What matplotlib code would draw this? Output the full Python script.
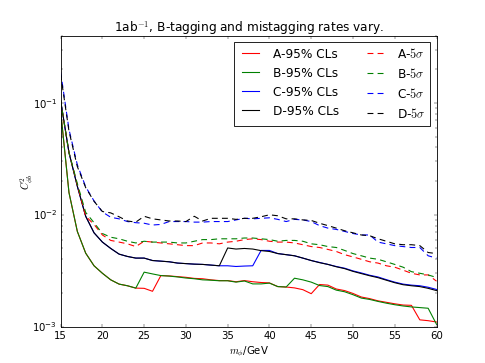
import matplotlib
matplotlib.use("Agg")
import matplotlib.pyplot as plt
import numpy as np

masses = list(range(15, 61))

A_cl = [0.085, 0.0158, 0.0071, 0.00454, 0.00350, 0.00300, 0.00262, 0.00240, 0.00232, 0.00221,
        0.00220, 0.00207, 0.00286, 0.00284, 0.00280, 0.00276, 0.00270, 0.00268, 0.00262, 0.00258,
        0.00258, 0.00252, 0.00258, 0.00252, 0.00248, 0.00246, 0.00228, 0.00226, 0.00222, 0.00214,
        0.00197, 0.00238, 0.00235, 0.00217, 0.00210, 0.00198, 0.00184, 0.00178, 0.00170, 0.00165,
        0.00160, 0.00156, 0.00155, 0.00115, 0.00113, 0.00110]
B_cl = [0.085, 0.0158, 0.0071, 0.00454, 0.00350, 0.00300, 0.00262, 0.00240, 0.00232, 0.00221,
        0.00307, 0.00296, 0.00286, 0.00283, 0.00278, 0.00272, 0.00268, 0.00262, 0.00260, 0.00257,
        0.00257, 0.00250, 0.00256, 0.00241, 0.00241, 0.00245, 0.00228, 0.00226, 0.00271, 0.00262,
        0.00250, 0.00233, 0.00228, 0.00212, 0.00205, 0.00193, 0.00180, 0.00175, 0.00168, 0.00162,
        0.00157, 0.00153, 0.00150, 0.00148, 0.00146, 0.00105]
C_cl = [0.105, 0.036, 0.018, 0.0097, 0.0069, 0.0057, 0.0050, 0.00445, 0.00424, 0.0041,
        0.0041, 0.0039, 0.00385, 0.0038, 0.0037, 0.00366, 0.00362, 0.0036, 0.00355, 0.0035,
        0.0035, 0.00345, 0.00348, 0.0035, 0.0048, 0.0048, 0.0045, 0.0044, 0.0043, 0.0041,
        0.0039, 0.00375, 0.0036, 0.00345, 0.00333, 0.00315, 0.00302, 0.00288, 0.00278, 0.00263,
        0.00250, 0.0024, 0.00235, 0.00232, 0.00225, 0.00215]
D_cl = [0.105, 0.036, 0.018, 0.0097, 0.0069, 0.0057, 0.0050, 0.00445, 0.00424, 0.0041,
        0.0041, 0.0039, 0.00385, 0.0038, 0.0037, 0.00366, 0.00362, 0.0036, 0.00355, 0.0035,
        0.00505, 0.00494, 0.0050, 0.00494, 0.00478, 0.0047, 0.0045, 0.0044, 0.0043, 0.0041,
        0.0039, 0.00373, 0.0036, 0.00343, 0.0033, 0.00312, 0.00298, 0.00285, 0.00274, 0.0026,
        0.00247, 0.00237, 0.00232, 0.00228, 0.0022, 0.0021]

A_5s = [0.105, 0.036, 0.0185, 0.0097, 0.0082, 0.0066, 0.0059, 0.0057, 0.0055, 0.0052,
        0.0058, 0.0057, 0.0056, 0.0055, 0.0054, 0.0053, 0.0053, 0.0056, 0.0056, 0.0055,
        0.0057, 0.0058, 0.0060, 0.0061, 0.0060, 0.0058, 0.0057, 0.0057, 0.0056, 0.0054,
        0.0052, 0.0051, 0.0049, 0.0047, 0.0044, 0.0042, 0.0040, 0.0038, 0.0037, 0.0035,
        0.0034, 0.0032, 0.0030, 0.0029, 0.0029, 0.00255]
B_5s = [0.105, 0.036, 0.019, 0.0105, 0.0085, 0.0068, 0.0063, 0.0061, 0.0058, 0.0056,
        0.0058, 0.0057, 0.0057, 0.0057, 0.0056, 0.0056, 0.0058, 0.0060, 0.0060, 0.0061,
        0.0061, 0.0061, 0.0062, 0.0062, 0.0061, 0.0060, 0.0058, 0.0059, 0.0059, 0.0058,
        0.0055, 0.0054, 0.0052, 0.0051, 0.0048, 0.0045, 0.0043, 0.0041, 0.0040, 0.0038,
        0.0036, 0.0034, 0.0031, 0.0030, 0.0029, 0.00275]
C_5s = [0.19, 0.058, 0.028, 0.0178, 0.0133, 0.0106, 0.0095, 0.0092, 0.0087, 0.0085,
        0.0084, 0.0081, 0.0082, 0.0087, 0.0087, 0.0087, 0.0086, 0.0086, 0.0087, 0.0087,
        0.0087, 0.0090, 0.0093, 0.0092, 0.0093, 0.0094, 0.0091, 0.0087, 0.0091, 0.0090,
        0.0087, 0.0080, 0.0076, 0.0074, 0.0071, 0.0068, 0.0066, 0.0066, 0.0057, 0.0055,
        0.0053, 0.0052, 0.0051, 0.0051, 0.0043, 0.0041]
D_5s = [0.18, 0.056, 0.027, 0.0175, 0.0132, 0.0107, 0.0104, 0.0096, 0.0088, 0.0086,
        0.0097, 0.0092, 0.0090, 0.0088, 0.0088, 0.0087, 0.0097, 0.0088, 0.0093, 0.0093,
        0.0093, 0.0091, 0.0093, 0.0093, 0.0096, 0.0100, 0.0098, 0.0092, 0.0092, 0.0090,
        0.0089, 0.0084, 0.0080, 0.0076, 0.0072, 0.0069, 0.0066, 0.0065, 0.0061, 0.0058,
        0.0055, 0.0054, 0.0054, 0.0053, 0.0046, 0.0045]

plt.style.use('classic')
fig = plt.figure(figsize=(8, 6), dpi=60.625)
ax = fig.add_subplot(111)

lw = 1.3
dash = (7, 5)
ax.plot(masses, A_cl, 'r-', lw=lw, label='A-95% CLs')
ax.plot(masses, B_cl, 'g-', lw=lw, label='B-95% CLs')
ax.plot(masses, C_cl, 'b-', lw=lw, label='C-95% CLs')
ax.plot(masses, D_cl, 'k-', lw=lw, label='D-95% CLs')
ax.plot(masses, A_5s, 'r--', lw=lw, dashes=dash, label=r'A-$5\sigma$')
ax.plot(masses, B_5s, 'g--', lw=lw, dashes=dash, label=r'B-$5\sigma$')
ax.plot(masses, C_5s, 'b--', lw=lw, dashes=dash, label=r'C-$5\sigma$')
ax.plot(masses, D_5s, 'k--', lw=lw, dashes=dash, label=r'D-$5\sigma$')

ax.set_yscale('log')
ax.set_xlim(15, 60)
ax.set_ylim(1e-3, 0.4)
ax.set_xlabel(r'$m_{\phi}$/GeV')
ax.set_ylabel(r'$C^{2}_{\phi b}$', labelpad=-4)
ax.set_title(r'1ab$^{-1}$, B-tagging and mistagging rates vary.')
ax.legend(loc='upper right', ncol=2)

fig.savefig('out.png', dpi=60.625)
